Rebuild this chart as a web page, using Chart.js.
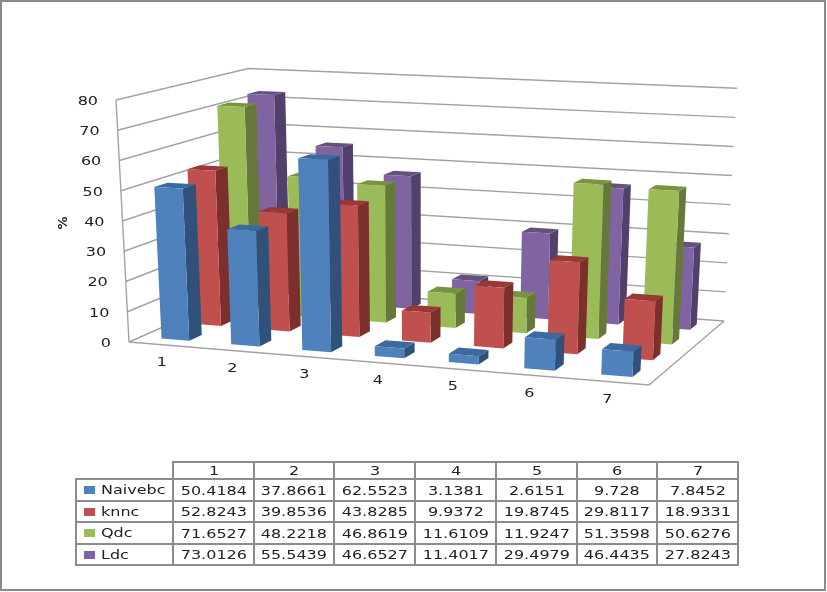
<!DOCTYPE html>
<html>
<head>
<meta charset="utf-8">
<title>3D column chart</title>
<script src="https://cdn.jsdelivr.net/npm/chart.js@4"></script>
<style>
html, body { margin: 0; padding: 0; background: #fff; }
#frame { position: absolute; left: 0; top: 0; width: 822px; height: 587px; border: 2px solid #8a8a8a; }
#chart { position: absolute; left: 0; top: 0; }
#datatable { position: absolute; left: 75px; top: 461px; border-collapse: collapse; table-layout: fixed;
  font: 12.5px "DejaVu Sans", sans-serif; color: #222; }
#datatable td { border: 2px solid #8c8c8c; padding: 0; text-align: center; overflow: hidden; box-sizing: border-box; }
#datatable td.blank { border-top: none; border-left: none; }
#datatable span { display: inline-block; white-space: nowrap; transform: scaleX(1.28); }
#datatable td.name { text-align: left; position: relative; }
#datatable td.name i { position: absolute; left: 7px; top: 6px; width: 11px; height: 8px; }
#datatable td.name span { position: absolute; left: 24px; top: 2px; transform-origin: 0 50%; }
</style>
</head>
<body>
<canvas id="chart" width="827" height="592"></canvas>
<div id="frame"></div>
<table id="datatable"></table>
<script>
var categories = ["1", "2", "3", "4", "5", "6", "7"];
var seriesNames = ["Naivebc", "knnc", "Qdc", "Ldc"];
var naivebc = [50.4184, 37.8661, 62.5523, 3.1381, 2.6151, 9.728, 7.8452];
var knnc = [52.8243, 39.8536, 43.8285, 9.9372, 19.8745, 29.8117, 18.9331];
var qdc = [71.6527, 48.2218, 46.8619, 11.6109, 11.9247, 51.3598, 50.6276];
var ldc = [73.0126, 55.5439, 46.6527, 11.4017, 29.4979, 46.4435, 27.8243];
var seriesValues = [naivebc, knnc, qdc, ldc];
var frontColors = ["#4f81bd", "#c0504d", "#9bbb59", "#8064a2"];
var sideColors = ["#30527a", "#7c2f2d", "#66793a", "#533f6b"];
var topColors = ["#3a6a9e", "#993836", "#7a9340", "#65507f"];

// floor of the 3d box on screen, order: front left, front right, back right, back left
var floorQuad = [[129, 342], [649, 385], [724, 321], [255, 286.5]];
// vertical edges lean away from this point, wall height shrinks with depth
var verticalVanish = [420, 5765];
var wallHeight = 242, heightByU = -0.07, heightByV = 0.11;
var rowStart = 0.085, rowStep = 0.245, rowDepth = 0.095;
var gridColor = "#a3a3a3";
var textColor = "#222";
var textFont = '12.5px "DejaVu Sans", sans-serif';

function makeHomography(q) {
    var dx1 = q[1][0] - q[2][0], dx2 = q[3][0] - q[2][0], sx = q[0][0] - q[1][0] + q[2][0] - q[3][0];
    var dy1 = q[1][1] - q[2][1], dy2 = q[3][1] - q[2][1], sy = q[0][1] - q[1][1] + q[2][1] - q[3][1];
    var det = dx1 * dy2 - dx2 * dy1;
    var g = (sx * dy2 - dx2 * sy) / det;
    var h = (dx1 * sy - sx * dy1) / det;
    return function(u, v) {
        var d = g * u + h * v + 1;
        return [
            ((q[1][0] - q[0][0] + g * q[1][0]) * u + (q[3][0] - q[0][0] + h * q[3][0]) * v + q[0][0]) / d,
            ((q[1][1] - q[0][1] + g * q[1][1]) * u + (q[3][1] - q[0][1] + h * q[3][1]) * v + q[0][1]) / d
        ];
    };
}
var floorMap = makeHomography(floorQuad);

// u along categories, v into the depth, w up the value axis, all 0..1
function project(u, v, w) {
    var a = floorMap(u, v);
    var height = w * wallHeight / (1 + heightByU * u + heightByV * v);
    var lean = (verticalVanish[0] - a[0]) / (verticalVanish[1] - a[1]);
    return [a[0] - lean * height, a[1] - height];
}

function poly(ctx, points, fill) {
    ctx.beginPath();
    points.forEach(function(p, i) {
        if (i == 0) ctx.moveTo(p[0], p[1]);
        else ctx.lineTo(p[0], p[1]);
    });
    ctx.closePath();
    if (fill) {
        ctx.fillStyle = fill;
        ctx.fill();
    }
}

function line(ctx, points) {
    ctx.beginPath();
    points.forEach(function(p, i) {
        if (i == 0) ctx.moveTo(p[0], p[1]);
        else ctx.lineTo(p[0], p[1]);
    });
    ctx.stroke();
}

function wideText(ctx, text, x, y, align) {
    ctx.save();
    ctx.translate(x, y);
    ctx.scale(1.28, 1);
    ctx.textAlign = align;
    ctx.fillText(text, 0, 0);
    ctx.restore();
}

function drawBox(ctx, u0, u1, v0, v1, w, s) {
    var f = [project(u0, v0, 0), project(u1, v0, 0), project(u1, v0, w), project(u0, v0, w)];
    var r = [project(u1, v0, 0), project(u1, v1, 0), project(u1, v1, w), project(u1, v0, w)];
    var t = [project(u0, v0, w), project(u1, v0, w), project(u1, v1, w), project(u0, v1, w)];
    poly(ctx, r, sideColors[s]);
    poly(ctx, t, topColors[s]);
    poly(ctx, f, frontColors[s]);
}

var box3d = {
    id: "box3d",
    beforeDatasetsDraw: function(chart) {
        var ctx = chart.ctx;
        var xs = chart.scales.x, ys = chart.scales.y;
        function valueToW(val) {
            return (ys.bottom - ys.getPixelForValue(val)) / (ys.bottom - ys.top);
        }
        ctx.save();

        // walls and floor
        ctx.strokeStyle = gridColor;
        ctx.lineWidth = 1.4;
        ys.ticks.forEach(function(tick) {
            var w = valueToW(tick.value);
            line(ctx, [project(0, 0, w), project(0, 1, w), project(1, 1, w)]);
        });
        line(ctx, [project(0, 0, 0), project(0, 0, 1)]);
        line(ctx, [project(0, 0, 0), project(1, 0, 0), project(1, 1, 0)]);

        // rows back to front, left to right in each row
        for (var s = chart.data.datasets.length - 1; s >= 0; s--) {
            var meta = chart.getDatasetMeta(s);
            meta.data.forEach(function(bar, i) {
                var u0 = (bar.x - bar.width / 2 - xs.left) / xs.width;
                var u1 = (bar.x + bar.width / 2 - xs.left) / xs.width;
                var v0 = rowStart + rowStep * s;
                drawBox(ctx, u0, u1, v0, v0 + rowDepth, valueToW(chart.data.datasets[s].data[i]), s);
            });
        }

        // axis labels
        ctx.fillStyle = textColor;
        ctx.font = textFont;
        ctx.textBaseline = "middle";
        ys.ticks.forEach(function(tick) {
            var p = project(0, 0, valueToW(tick.value));
            wideText(ctx, tick.label, p[0] - 18, p[1] + 1.5, "right");
        });
        xs.ticks.forEach(function(tick, i) {
            var p = project((xs.getPixelForTick(i) - xs.left) / xs.width, 0, 0);
            wideText(ctx, tick.label, p[0] - 2, p[1] + 18, "center");
        });
        ctx.save();
        ctx.translate(64, 223);
        ctx.rotate(-Math.PI / 2);
        ctx.font = 'bold 13px "DejaVu Sans", sans-serif';
        ctx.textAlign = "center";
        ctx.fillText(chart.options.scales.y.title.text, 0, 0);
        ctx.restore();

        ctx.restore();
        return false;
    }
};

new Chart(document.getElementById("chart").getContext("2d"), {
    type: "bar",
    plugins: [box3d],
    data: {
        labels: categories,
        datasets: seriesNames.map(function(name, s) {
            return { label: name, data: seriesValues[s], backgroundColor: frontColors[s] };
        })
    },
    options: {
        responsive: false,
        animation: false,
        events: [],
        grouped: false,
        barPercentage: 0.4,
        categoryPercentage: 1,
        plugins: { legend: { display: false }, tooltip: { enabled: false } },
        scales: {
            x: { display: false },
            y: { display: false, min: 0, max: 80, ticks: { stepSize: 10 }, title: { text: "%" } }
        }
    }
});

// data table under the chart
var colWidths = [97, 81, 80, 81, 81, 81, 80, 81];
var rowHeights = [16, 22, 21, 22, 21];
var tableEl = document.getElementById("datatable");
tableEl.style.width = colWidths.reduce(function(a, b) { return a + b; }, 0) + "px";
var html = "<colgroup>" + colWidths.map(function(w) { return '<col style="width:' + w + 'px">'; }).join("") + "</colgroup>";
html += '<tr style="height:' + rowHeights[0] + 'px"><td class="blank"></td>' + categories.map(function(c) {
    return "<td><span>" + c + "</span></td>";
}).join("") + "</tr>";
seriesNames.forEach(function(name, s) {
    html += '<tr style="height:' + rowHeights[s + 1] + 'px"><td class="name"><i style="background:' + frontColors[s] + '"></i><span>' + name + "</span></td>";
    html += seriesValues[s].map(function(v) { return "<td><span>" + v + "</span></td>"; }).join("") + "</tr>";
});
tableEl.innerHTML = html;
</script>
</body>
</html>
